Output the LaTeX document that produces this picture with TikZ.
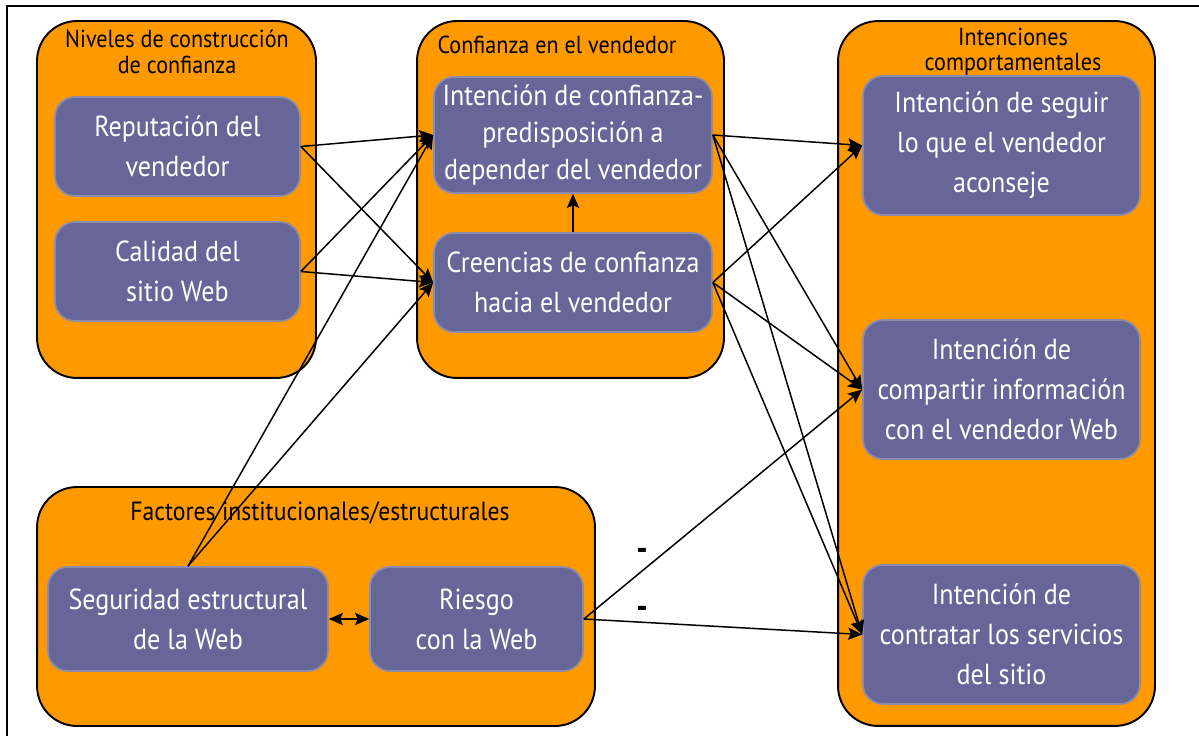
\documentclass[tikz,border=0pt]{standalone}
\usepackage{fontspec}
\setmainfont{PT Sans}[FakeStretch=0.9]
\usetikzlibrary{arrows.meta}
\definecolor{naranja}{HTML}{FF9900}
\definecolor{morado}{HTML}{666699}
\definecolor{bordemorado}{HTML}{8C8CAA}

\begin{document}
\begin{tikzpicture}[x=0.02cm,y=-0.02cm,->,>={Stealth[length=8pt,width=7pt,inset=1.5pt]},line width=0.85pt,
	grupo/.style={draw=black,line width=1.1pt,fill=naranja,rounded corners=0.8cm,inner sep=0pt},
	caja/.style={draw=bordemorado,line width=1pt,fill=morado,text=white,rounded corners=0.4cm,align=center,inner sep=2pt,
		font=\fontsize{16.5}{22.7}\selectfont},
	titulo/.style={align=center,inner sep=0pt,font=\fontsize{14}{14.5}\selectfont},
	signo/.style={inner sep=0pt,font=\fontsize{20}{20}\selectfont\bfseries}]
	\useasboundingbox (0,0) rectangle (1199,736);
	\draw[-,line width=1.4pt] (7,736) -- (7,6) -- (1199,6); % marco

	% grupos
	\node[grupo,minimum width=5.58cm,minimum height=7.14cm] (niveles) at (176.5,199.5) {};
	\node[grupo,minimum width=6.14cm,minimum height=7.14cm] (confianza) at (570.5,199.5) {};
	\node[grupo,minimum width=6.34cm,minimum height=14.1cm] (intenciones) at (996.5,373.5) {};
	\node[grupo,minimum width=11.16cm,minimum height=4.78cm] (factores) at (316,606.5) {};

	\node[titulo] (t1) at (177,52) {Niveles de construcción\\de confianza};
	\node[titulo] (t2) at (557,45) {Confianza en el vendedor};
	\node[titulo] (t3) at (1013,52) {Intenciones\\comportamentales};
	\node[titulo,font=\fontsize{15}{15}\selectfont] (t4) at (320,513) {Factores institucionales/estructurales};

	% cajas
	\node[caja,minimum width=4.9cm,minimum height=1.98cm] (rep) at (177.5,146.5) {Reputación del\\vendedor};
	\node[caja,minimum width=4.9cm,minimum height=1.98cm] (cal) at (177.5,271.5) {Calidad del\\sitio Web};
	\node[caja,minimum width=5.56cm,minimum height=2.32cm,font=\fontsize{16.5}{21}\selectfont] (intc) at (573,135)
		{Intención de confianza-\\predisposición a\\depender del vendedor};
	\node[caja,minimum width=5.56cm,minimum height=1.98cm] (cree) at (573,282.5) {Creencias de confianza\\hacia el vendedor};
	\node[caja,minimum width=5.54cm,minimum height=2.78cm] (seguir) at (1001.5,145.5)
		{Intención de seguir\\lo que el vendedor\\aconseje};
	\node[caja,minimum width=5.54cm,minimum height=2.78cm] (compartir) at (1001.5,389.5)
		{Intención de\\compartir información\\con el vendedor Web};
	\node[caja,minimum width=5.54cm,minimum height=2.78cm] (contratar) at (1001.5,634.5)
		{Intención de\\contratar los servicios\\del sitio};
	\node[caja,minimum width=5.6cm,minimum height=2.08cm] (segur) at (188,619) {Seguridad estructural\\de la Web};
	\node[caja,minimum width=4.26cm,minimum height=2.08cm] (riesgo) at (476.5,619) {Riesgo\\con la Web};

	% relaciones
	\draw (rep.east) -- (intc.west);
	\draw (rep.east) -- (cree.west);
	\draw (cal.east) -- (intc.west);
	\draw (cal.east) -- (cree.west);
	\draw (segur.north) -- (intc.west);
	\draw (segur.north) -- (cree.west);
	\draw (cree.north) -- (intc.south);
	\foreach \d in {seguir,compartir,contratar} {
		\draw (intc.east) -- (\d.west);
		\draw (cree.east) -- (\d.west);
	}
	\draw (riesgo.east) -- (compartir.west);
	\draw (riesgo.east) -- (contratar.west);
	\draw[<->] (segur.east) -- (riesgo.west);

	\node[signo] (m1) at (642,554) {-};
	\node[signo] (m2) at (642,612) {-};
\end{tikzpicture}
\end{document}
